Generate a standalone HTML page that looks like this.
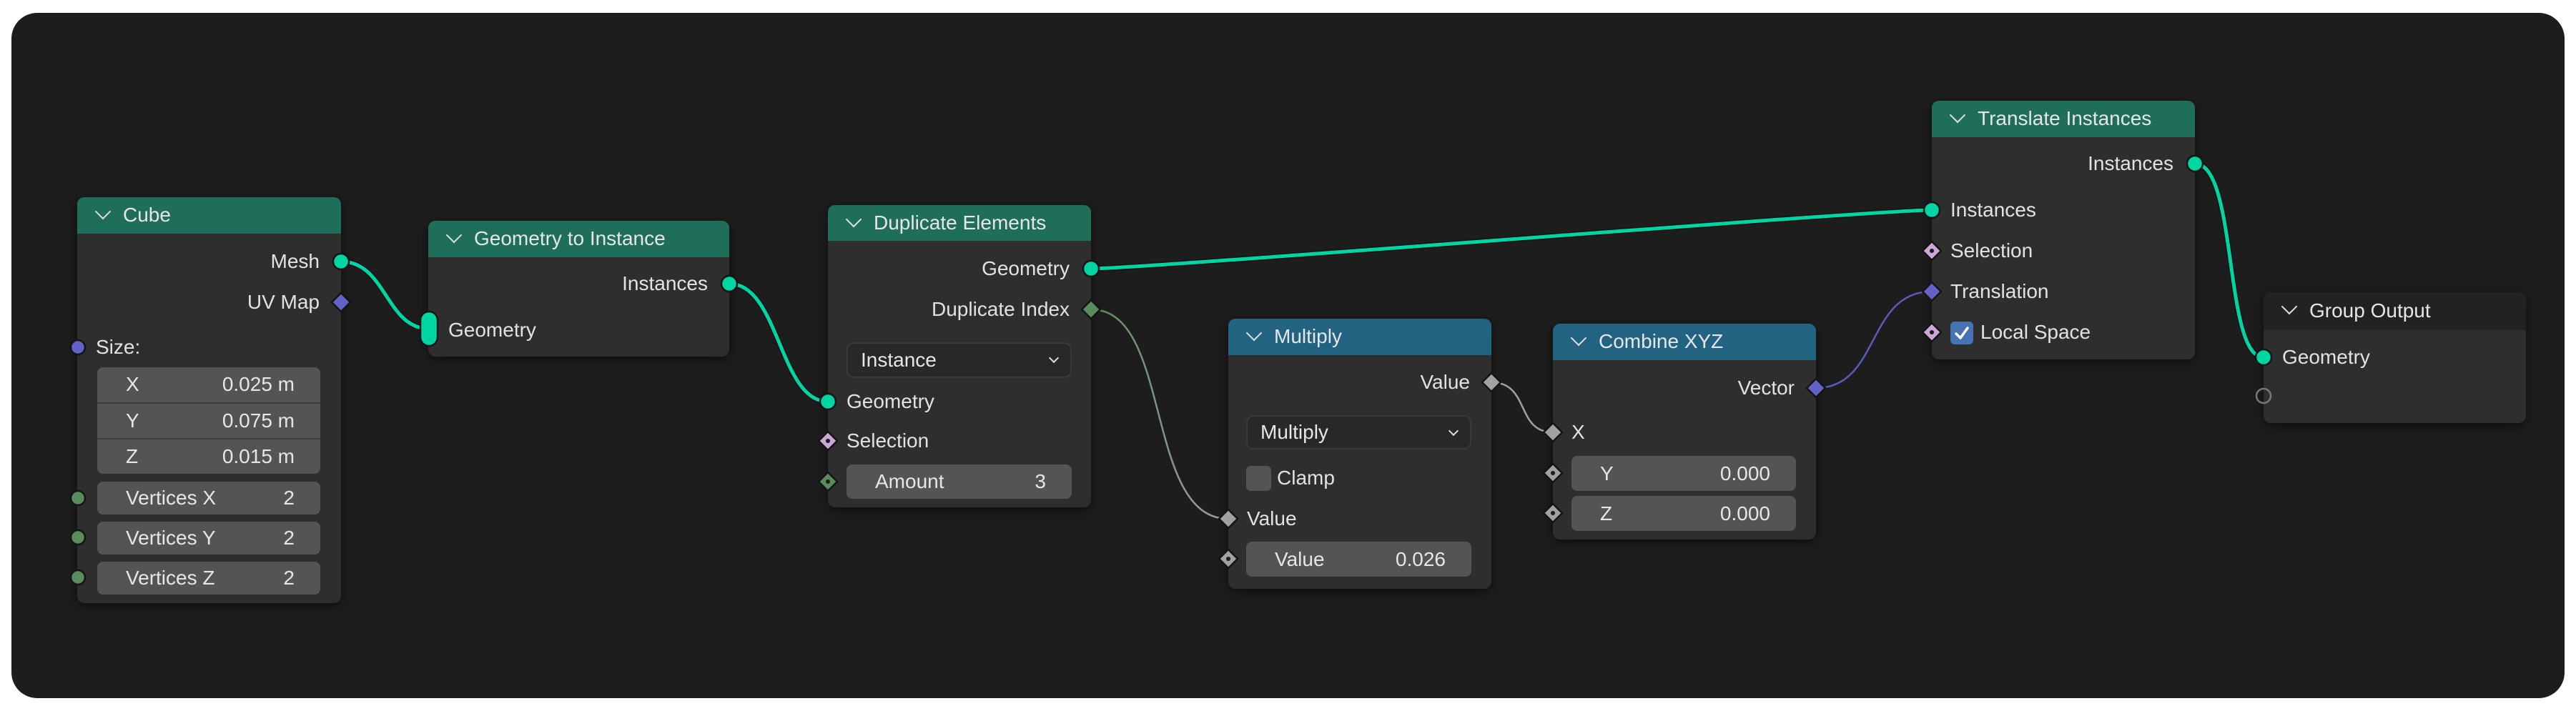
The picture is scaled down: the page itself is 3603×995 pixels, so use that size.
<!DOCTYPE html>
<html><head><meta charset="utf-8"><style>
html,body{margin:0;padding:0;background:#fff;}
body{width:3603px;height:995px;position:relative;overflow:hidden;font-family:"Liberation Sans","DejaVu Sans",sans-serif;}
#frame{position:absolute;left:16px;top:18px;width:3571px;height:959px;background:#1d1d1d;border-radius:36px;}
.node{position:absolute;background:#2e2e2e;border-radius:10px;box-shadow:0 4px 14px rgba(0,0,0,0.55);overflow:hidden;}
.hd{position:absolute;left:0;top:0;right:0;color:#e6e6e6;font-size:28px;}
.hd .chev{position:absolute;left:28px;top:12px;width:14px;height:14px;border-right:2.5px solid #ddd;border-bottom:2.5px solid #ddd;transform:rotate(45deg);}
.hd .t{position:absolute;left:64px;}
.g{background:#1e6e5a;}
.b{background:#226382;}
.k{background:#222;}
.lbl{position:absolute;color:#e2e2e2;font-size:28px;line-height:32px;white-space:nowrap;}
.r{text-align:right;}
.fld{position:absolute;background:#545454;border-radius:8px;color:#e6e6e6;font-size:28px;}
.fld .a{position:absolute;left:40px;}
.fld .v{position:absolute;right:36px;}
.dd{position:absolute;background:#282828;border:2px solid #3a3a3a;border-radius:10px;color:#e6e6e6;font-size:28px;box-sizing:border-box;}
.dd .a{position:absolute;left:18px;}
.dd .c{position:absolute;right:18px;top:15px;width:8px;height:8px;border-right:2px solid #ddd;border-bottom:2px solid #ddd;transform:rotate(45deg);}
svg{position:absolute;left:0;top:0;}
</style></head><body>
<div id="frame"></div>
<svg width="3603" height="995">
<defs>
<linearGradient id="gg" x1="0" x2="1"><stop offset="0" stop-color="#598c5c"/><stop offset="1" stop-color="#a1a1a1"/></linearGradient>
<linearGradient id="gp" x1="0" x2="1"><stop offset="0" stop-color="#6363c7"/><stop offset="1" stop-color="#6363c7"/></linearGradient>
</defs>
<g fill="none" stroke-linecap="round">
<path d="M477 366 C540 366 540 460 600 460" stroke="#111" stroke-width="8"/>
<path d="M477 366 C540 366 540 460 600 460" stroke="#00d6a3" stroke-width="5"/>
<path d="M1020 397 C1090 397 1090 562 1158 562" stroke="#111" stroke-width="8"/>
<path d="M1020 397 C1090 397 1090 562 1158 562" stroke="#00d6a3" stroke-width="5"/>
<path d="M1526 376 C1600 376 2620 294 2702 294" stroke="#111" stroke-width="8"/>
<path d="M1526 376 C1600 376 2620 294 2702 294" stroke="#00d6a3" stroke-width="5"/>
<path d="M1526 433 C1640 433 1600 726 1718 726" stroke="url(#gg)" stroke-width="2.5"/>
<path d="M2086 535 C2140 535 2120 605 2172 605" stroke="#a1a1a1" stroke-width="2.5"/>
<path d="M2540 543 C2630 543 2610 408 2702 408" stroke="#5a5ac0" stroke-width="2.5"/>
<path d="M3070 229 C3130 229 3110 500 3166 500" stroke="#111" stroke-width="8"/>
<path d="M3070 229 C3130 229 3110 500 3166 500" stroke="#00d6a3" stroke-width="5"/>
</g>
</svg>

<!-- Cube -->
<div class="node" style="left:108px;top:276px;width:369px;height:568px;">
<div class="hd g" style="height:51px;"><div class="chev"></div><div class="t" style="top:9px;">Cube</div></div>
<div class="lbl r" style="right:30px;top:74px;">Mesh</div>
<div class="lbl r" style="right:30px;top:131px;">UV Map</div>
<div class="lbl" style="left:26px;top:194px;">Size:</div>
<div class="fld" style="left:28px;top:238px;width:312px;height:149px;"></div>
<div class="fld" style="left:28px;top:238px;width:312px;height:48px;background:transparent;line-height:48px;"><span class="a">X</span><span class="v">0.025 m</span></div>
<div style="position:absolute;left:28px;top:287px;width:312px;height:2px;background:#3d3d3d;"></div>
<div class="fld" style="left:28px;top:288px;width:312px;height:49px;background:transparent;line-height:49px;"><span class="a">Y</span><span class="v">0.075 m</span></div>
<div style="position:absolute;left:28px;top:337px;width:312px;height:2px;background:#3d3d3d;"></div>
<div class="fld" style="left:28px;top:338px;width:312px;height:49px;background:transparent;line-height:49px;"><span class="a">Z</span><span class="v">0.015 m</span></div>
<div class="fld" style="left:28px;top:398px;width:312px;height:46px;line-height:46px;"><span class="a">Vertices X</span><span class="v">2</span></div>
<div class="fld" style="left:28px;top:454px;width:312px;height:46px;line-height:46px;"><span class="a">Vertices Y</span><span class="v">2</span></div>
<div class="fld" style="left:28px;top:510px;width:312px;height:46px;line-height:46px;"><span class="a">Vertices Z</span><span class="v">2</span></div>
</div>

<!-- Geometry to Instance -->
<div class="node" style="left:599px;top:309px;width:421px;height:190px;">
<div class="hd g" style="height:51px;"><div class="chev"></div><div class="t" style="top:9px;">Geometry to Instance</div></div>
<div class="lbl r" style="right:30px;top:72px;">Instances</div>
<div class="lbl" style="left:28px;top:137px;">Geometry</div>
</div>

<!-- Duplicate Elements -->
<div class="node" style="left:1158px;top:287px;width:368px;height:423px;">
<div class="hd g" style="height:50px;"><div class="chev"></div><div class="t" style="top:9px;">Duplicate Elements</div></div>
<div class="lbl r" style="right:30px;top:73px;">Geometry</div>
<div class="lbl r" style="right:30px;top:130px;">Duplicate Index</div>
<div class="dd" style="left:26px;top:192px;width:315px;height:50px;line-height:46px;"><span class="a">Instance</span><span class="c"></span></div>
<div class="lbl" style="left:26px;top:259px;">Geometry</div>
<div class="lbl" style="left:26px;top:314px;">Selection</div>
<div class="fld" style="left:26px;top:363px;width:315px;height:48px;line-height:48px;"><span class="a">Amount</span><span class="v">3</span></div>
</div>

<!-- Multiply -->
<div class="node" style="left:1718px;top:446px;width:368px;height:378px;">
<div class="hd b" style="height:51px;"><div class="chev"></div><div class="t" style="top:9px;">Multiply</div></div>
<div class="lbl r" style="right:30px;top:73px;">Value</div>
<div class="dd" style="left:25px;top:135px;width:315px;height:48px;line-height:44px;"><span class="a">Multiply</span><span class="c"></span></div>
<div style="position:absolute;left:25px;top:206px;width:35px;height:35px;background:#545454;border-radius:6px;"></div>
<div class="lbl" style="left:68px;top:207px;">Clamp</div>
<div class="lbl" style="left:26px;top:264px;">Value</div>
<div class="fld" style="left:25px;top:312px;width:315px;height:49px;line-height:49px;"><span class="a">Value</span><span class="v">0.026</span></div>
</div>

<!-- Combine XYZ -->
<div class="node" style="left:2172px;top:453px;width:368px;height:302px;">
<div class="hd b" style="height:51px;"><div class="chev"></div><div class="t" style="top:9px;">Combine XYZ</div></div>
<div class="lbl r" style="right:30px;top:74px;">Vector</div>
<div class="lbl" style="left:26px;top:136px;">X</div>
<div class="fld" style="left:26px;top:185px;width:314px;height:49px;line-height:49px;"><span class="a">Y</span><span class="v">0.000</span></div>
<div class="fld" style="left:26px;top:241px;width:314px;height:49px;line-height:49px;"><span class="a">Z</span><span class="v">0.000</span></div>
</div>

<!-- Translate Instances -->
<div class="node" style="left:2702px;top:141px;width:368px;height:362px;">
<div class="hd g" style="height:51px;"><div class="chev"></div><div class="t" style="top:9px;">Translate Instances</div></div>
<div class="lbl r" style="right:30px;top:72px;">Instances</div>
<div class="lbl" style="left:26px;top:137px;">Instances</div>
<div class="lbl" style="left:26px;top:194px;">Selection</div>
<div class="lbl" style="left:26px;top:251px;">Translation</div>
<div style="position:absolute;left:26px;top:309px;width:32px;height:32px;background:#4772b3;border-radius:6px;"></div>
<svg style="left:26px;top:309px;" width="32" height="32"><path d="M8 17 L14 23 L24 9" fill="none" stroke="#fff" stroke-width="3.5" stroke-linecap="round" stroke-linejoin="round"/></svg>
<div class="lbl" style="left:68px;top:308px;">Local Space</div>
</div>

<!-- Group Output -->
<div class="node" style="left:3166px;top:409px;width:367px;height:183px;">
<div class="hd k" style="height:53px;"><div class="chev"></div><div class="t" style="top:10px;">Group Output</div></div>
<div class="lbl" style="left:26px;top:75px;">Geometry</div>
</div>

<!-- sockets -->
<svg width="3603" height="995">
<g stroke="#141414" stroke-width="2.5">
<circle cx="477" cy="366" r="11" fill="#00d6a3"/>
<path d="M477 410 L490 423 L477 436 L464 423Z" fill="#6363c7"/>
<circle cx="109" cy="486" r="10" fill="#6363c7"/>
<circle cx="109" cy="697" r="10" fill="#598c5c"/>
<circle cx="109" cy="752" r="10" fill="#598c5c"/>
<circle cx="109" cy="808" r="10" fill="#598c5c"/>
<rect x="588" y="436" width="24" height="48" rx="12" fill="#00d6a3"/>
<circle cx="1020" cy="397" r="11" fill="#00d6a3"/>
<circle cx="1526" cy="376" r="11" fill="#00d6a3"/>
<path d="M1526 420 L1539 433 L1526 446 L1513 433Z" fill="#598c5c"/>
<circle cx="1158" cy="562" r="11" fill="#00d6a3"/>
<path d="M1158 604 L1171 617 L1158 630 L1145 617Z" fill="#cca6d6"/>
<path d="M1158 661 L1171 674 L1158 687 L1145 674Z" fill="#598c5c"/>
<path d="M2086 522 L2099 535 L2086 548 L2073 535Z" fill="#a1a1a1"/>
<path d="M1718 713 L1731 726 L1718 739 L1705 726Z" fill="#a1a1a1"/>
<path d="M1718 769 L1731 782 L1718 795 L1705 782Z" fill="#a1a1a1"/>
<path d="M2540 530 L2553 543 L2540 556 L2527 543Z" fill="#6363c7"/>
<path d="M2172 592 L2185 605 L2172 618 L2159 605Z" fill="#a1a1a1"/>
<path d="M2172 649 L2185 662 L2172 675 L2159 662Z" fill="#a1a1a1"/>
<path d="M2172 705 L2185 718 L2172 731 L2159 718Z" fill="#a1a1a1"/>
<circle cx="3070" cy="229" r="11" fill="#00d6a3"/>
<circle cx="2702" cy="294" r="11" fill="#00d6a3"/>
<path d="M2702 338 L2715 351 L2702 364 L2689 351Z" fill="#cca6d6"/>
<path d="M2702 395 L2715 408 L2702 421 L2689 408Z" fill="#6363c7"/>
<path d="M2702 452 L2715 465 L2702 478 L2689 465Z" fill="#cca6d6"/>
<circle cx="3166" cy="500" r="11" fill="#00d6a3"/>
</g>
<g fill="#1a1a1a">
<circle cx="1158" cy="617" r="3"/><circle cx="1158" cy="674" r="3"/>
<circle cx="1718" cy="782" r="3"/><circle cx="2172" cy="662" r="3"/><circle cx="2172" cy="718" r="3"/>
<circle cx="2702" cy="351" r="3"/><circle cx="2702" cy="465" r="3"/>
</g>
<circle cx="3166" cy="554" r="10" fill="none" stroke="#777" stroke-width="2.5"/>
</svg>
</body></html>
